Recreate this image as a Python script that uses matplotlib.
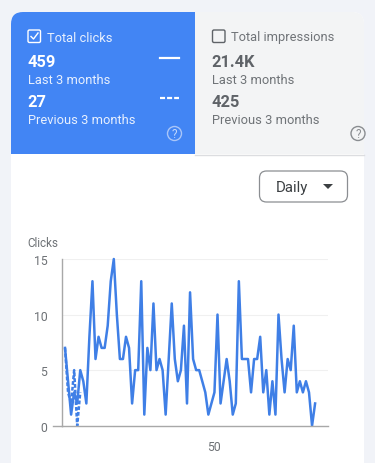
import matplotlib
matplotlib.use("Agg")
import matplotlib.pyplot as plt
from matplotlib.patches import FancyBboxPatch, Rectangle, Circle
import numpy as np

plt.rcParams['font.family'] = ['Roboto', 'DejaVu Sans']

clicks_last = [7, 4, 1, 3, 2, 5, 4, 2, 8, 13, 6, 8, 7, 7, 9, 13, 15, 10, 6, 6, 8, 7, 2, 5, 5, 13,
               1, 7, 5, 11, 5, 6, 5, 1, 6, 11, 6, 4, 5, 9, 2, 12, 6, 5, 5, 4, 3, 1, 2, 3, 10, 2,
               4, 6, 4, 1, 2, 13, 6, 6, 6, 3, 6, 6, 8, 3, 5, 1, 4, 1, 10, 6, 3, 6, 5, 9, 3, 4,
               3, 4, 3, 0, 2]
clicks_prev = [7, 3, 2, 5, 0, 3]
y_ticks = [0, 5, 10, 15]
x_ticks = [50]
metric_names = ["Total clicks", "Total impressions"]
metric_last = ["459", "21.4K"]
metric_prev = ["27", "425"]

W, H = 375, 464
BLUE = "#4285f4"
LINE = "#3f7fe6"
fig = plt.figure(figsize=(W / 100, H / 100), dpi=100, facecolor="#f1f3f8")

bg = fig.add_axes([0, 0, 1, 1])
bg.set_xlim(0, W)
bg.set_ylim(H, 0)
bg.axis("off")

# card and the two tabs
bg.add_patch(FancyBboxPatch((11, 13), 353, 480, boxstyle="round,pad=0,rounding_size=12", fc="white", ec="none"))
grey = FancyBboxPatch((11, 13), 353, 180, boxstyle="round,pad=0,rounding_size=12", fc="#f3f4f5", ec="none")
bg.add_patch(grey)
grey.set_clip_path(Rectangle((195, 0), 200, 155, transform=bg.transData))
blue = FancyBboxPatch((11, 13), 300, 180, boxstyle="round,pad=0,rounding_size=12", fc=BLUE, ec="none")
bg.add_patch(blue)
blue.set_clip_path(Rectangle((0, 0), 195, 155, transform=bg.transData))
bg.plot([195, 364], [155.5, 155.5], color="#dcdde0", lw=1)

# tab text
for x0, col, sub, i in [(27.5, "white", "#e8f0fe", 0), (211.5, "#5f6368", "#6f7377", 1)]:
    bg.text(x0 + 19.5, 38, metric_names[i], color=sub if i == 0 else "#707478", fontsize=9.3, va="center")
    bg.text(x0, 62.5, metric_last[i], color=col, fontsize=11.8, fontweight="bold", va="center")
    bg.text(x0, 80.5, "Last 3 months", color=sub, fontsize=9.3, va="center")
    bg.text(x0, 102.5, metric_prev[i], color=col, fontsize=11.8, fontweight="bold", va="center")
    bg.text(x0, 120.5, "Previous 3 months", color=sub, fontsize=9.3, va="center")

bg.add_patch(FancyBboxPatch((28, 31), 12.5, 12.5, boxstyle="round,pad=0,rounding_size=1.5", fc="none", ec="white", lw=1))
bg.plot([31, 33.5, 38], [37.5, 40, 34], color="white", lw=1)
bg.add_patch(FancyBboxPatch((212.5, 31), 12.5, 12.5, boxstyle="round,pad=0,rounding_size=1.5", fc="none", ec="#5f6368", lw=1))

bg.plot([160, 179], [59, 59], color="white", lw=1.6)
bg.plot([160, 179], [99, 99], color="white", lw=1.6, ls=(0, (2.27, 0.91)))

bg.add_patch(Circle((174.5, 134.5), 7, fc="none", ec="#a9c5f8", lw=1))
bg.text(174.5, 135, "?", color="#c6d9fb", fontsize=8.5, ha="center", va="center")
bg.add_patch(Circle((358, 134.5), 7, fc="none", ec="#8a8d91", lw=1))
bg.text(358, 135, "?", color="#8a8d91", fontsize=8.5, ha="center", va="center")

# Daily dropdown
bg.add_patch(FancyBboxPatch((259.5, 172), 88, 31, boxstyle="round,pad=0,rounding_size=7", fc="white", ec="#8b8e92", lw=0.9))
bg.text(276, 188, "Daily", color="#3c4043", fontsize=10.8, va="center")
bg.fill([323, 333, 328], [185, 185, 190], color="#3c4043", lw=0)

bg.text(27, 244, "Clicks", color="#6d7175", fontsize=8.4, va="center")

# chart
ax = fig.add_axes([62 / W, 1 - 426.7 / H, 266 / W, 166.7 / H])
ax.patch.set_alpha(0)
days_last = np.arange(1, len(clicks_last) + 1)
days_prev = np.arange(1, len(clicks_prev) + 1)
ax.plot(days_prev, clicks_prev, color=LINE, lw=1.8, ls=(0, (1.5, 0.8)), clip_on=False)
ax.plot(days_last, clicks_last, color=LINE, lw=1.8, clip_on=False, solid_joinstyle="round")
ax.set_xlim(1 - 3 / 3.05, 1 + 263 / 3.05)
ax.set_ylim(0, 15)
ax.set_yticks(y_ticks)
ax.set_xticks(x_ticks)
ax.grid(axis="y", color="#f0f0f0", lw=0.8)
ax.set_axisbelow(True)
for s in ["top", "right"]:
    ax.spines[s].set_visible(False)
ax.spines["left"].set_color("#a8a8a8")
ax.spines["bottom"].set_color("#a8a8a8")
ax.spines["left"].set_linewidth(1)
ax.spines["bottom"].set_linewidth(1)
ax.tick_params(axis="y", length=0, labelsize=8.8, labelcolor="#6d7175", pad=10.5)
ax.tick_params(axis="x", length=0, labelsize=8.8, labelcolor="#6d7175", pad=10.5)
# short stub of the baseline left of the y axis
bg.plot([53, 62], [426.7, 426.7], color="#a8a8a8", lw=1)

fig.savefig("out.png", dpi=100, facecolor=fig.get_facecolor())
